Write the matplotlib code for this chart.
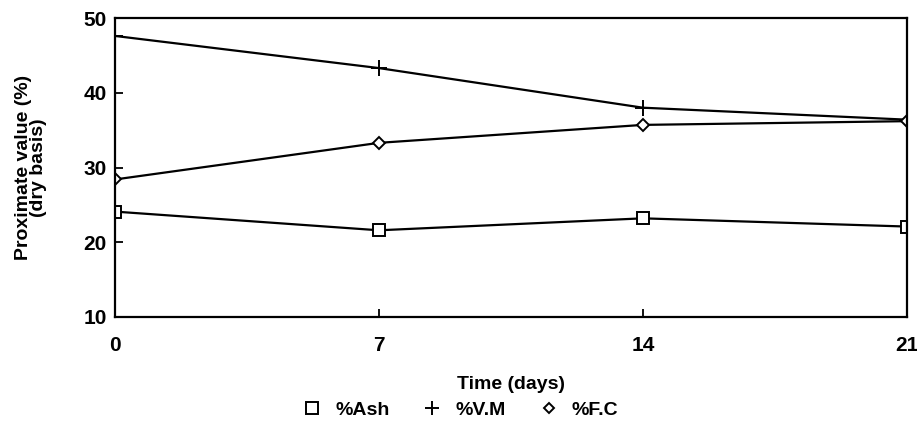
import matplotlib
matplotlib.use("Agg")
import matplotlib.pyplot as plt
from matplotlib.lines import Line2D

days = [0, 7, 14, 21]
ash = [24.1, 21.6, 23.2, 22.1]
vm = [47.6, 43.3, 38.0, 36.4]
fc = [28.4, 33.3, 35.7, 36.2]
x_ticks = [0, 7, 14, 21]
y_ticks = [10, 20, 30, 40, 50]

plt.rcParams['font.family'] = ['Liberation Sans', 'DejaVu Sans']
plt.rcParams['font.weight'] = 'bold'
plt.rcParams['axes.labelweight'] = 'bold'

fig = plt.figure(figsize=(9.17, 4.37), dpi=100)
ax = fig.add_axes([0.1254, 0.2746, 0.8636, 0.6842])

ax.plot(days, ash, color='black', lw=1.6, marker='s', markersize=8,
        markerfacecolor='white', markeredgecolor='black', markeredgewidth=1.4)
ax.plot(days, vm, color='black', lw=1.6, marker='+', markersize=11,
        markeredgewidth=1.4)
ax.plot(days, fc, color='black', lw=1.6, marker='D', markersize=6,
        markerfacecolor='white', markeredgecolor='black', markeredgewidth=1.4)

ax.set_xlim(0, 21)
ax.set_ylim(10, 50)
ax.set_xticks(x_ticks)
ax.set_yticks(y_ticks)
ax.tick_params(direction='in', length=6, width=1.3, labelsize=15)
ax.tick_params(axis='x', pad=14)
ax.tick_params(axis='y', pad=6)
for s in ax.spines.values():
    s.set_linewidth(1.6)

ax.set_xlabel("Time (days)", fontsize=14, labelpad=15)
ax.set_ylabel("Proximate value (%)\n(dry basis)", fontsize=14, labelpad=26, linespacing=0.85)

# legend: markers only, as in the original
handles = [
    Line2D([], [], ls='none', marker='s', markersize=8, markerfacecolor='white',
           markeredgecolor='black', markeredgewidth=1.4),
    Line2D([], [], ls='none', marker='+', markersize=10, color='black', markeredgewidth=1.4),
    Line2D([], [], ls='none', marker='D', markersize=5.5, markerfacecolor='white',
           markeredgecolor='black', markeredgewidth=1.4),
]
fig.legend(handles, ['%Ash', '%V.M', '%F.C'], loc='center', bbox_to_anchor=(0.502, 0.062),
           ncol=3, frameon=False, prop={'size': 14, 'weight': 'bold'},
           handlelength=1.0, columnspacing=1.7, handletextpad=0.7)

fig.savefig("out.png", dpi=100)
